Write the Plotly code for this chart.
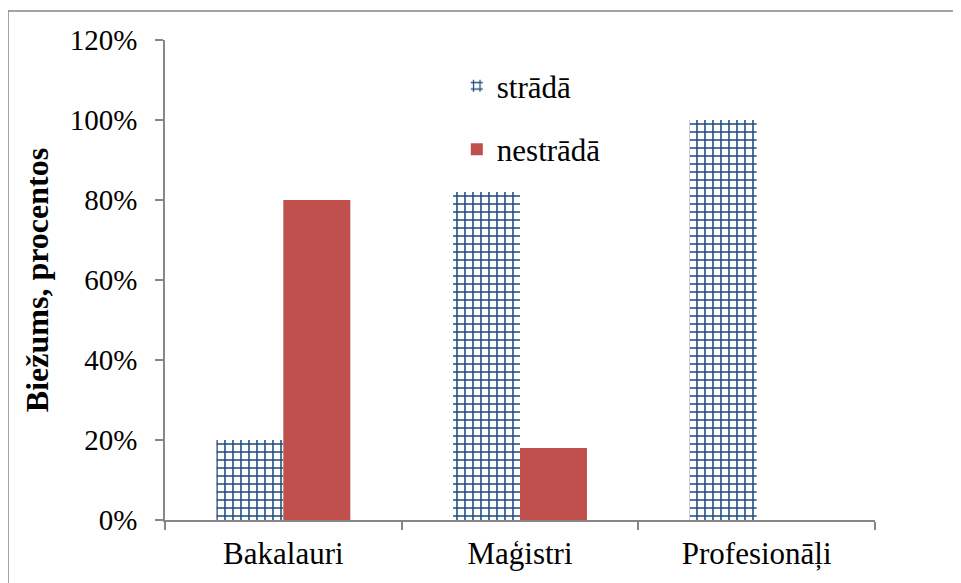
import plotly.graph_objects as go

categories = ['Bakalauri', 'Maģistri', 'Profesionāļi']
strada = [0.20, 0.82, 1.00]
nestrada = [0.80, 0.18, 0.0]

FONT = 'Liberation Serif'
GREY = '#868686'

fig = go.Figure()
fig.add_trace(go.Bar(
    x=categories, y=strada, name='strādā', legendgroup='a',
    marker=dict(color='white', line=dict(width=0),
                pattern=dict(shape='+', fgcolor='#1F497D', bgcolor='white',
                             size=8, solidity=0.35, fillmode='replace')),
))
fig.add_trace(go.Bar(
    x=categories, y=nestrada, name='nestrādā', legendgroup='b',
    marker=dict(color='#C0504D', line=dict(width=0)),
))

fig.update_layout(
    width=961, height=583,
    margin=dict(l=157, r=94, t=32, b=71),
    paper_bgcolor='white', plot_bgcolor='white',
    font=dict(family=FONT, size=29, color='black'),
    barmode='group', bargap=0.434, bargroupgap=0,
    showlegend=True,
    legend=dict(x=0.411, y=0.96, xanchor='left', yanchor='top',
                bgcolor='rgba(0,0,0,0)', font=dict(family=FONT, size=31),
                tracegroupgap=20, traceorder='grouped'),
    xaxis=dict(showline=True, linecolor=GREY, linewidth=1.5,
               ticks='outside', tickson='boundaries', ticklen=8,
               tickcolor=GREY, tickwidth=1.5, showgrid=False,
               ticklabelstandoff=5,
               tickfont=dict(family=FONT, size=31)),
    yaxis=dict(range=[0, 1.2], dtick=0.2, tickformat='.0%',
               showline=True, linecolor=GREY, linewidth=1.5,
               ticks='outside', ticklen=8, tickcolor=GREY, tickwidth=1.5,
               showgrid=False, zeroline=False, ticklabelstandoff=12,
               tickfont=dict(family=FONT, size=29),
               title=dict(text='<b>Biežums, procentos</b>',
                          font=dict(family=FONT, size=32), standoff=12)),
)

# outer chart border
fig.add_shape(type='rect', xref='paper', yref='paper',
              x0=-0.2211, y0=-0.16, x1=1.14, y1=1.0604,
              line=dict(color=GREY, width=1.5), fillcolor='rgba(0,0,0,0)',
              layer='below')

fig.write_html('out.html')
